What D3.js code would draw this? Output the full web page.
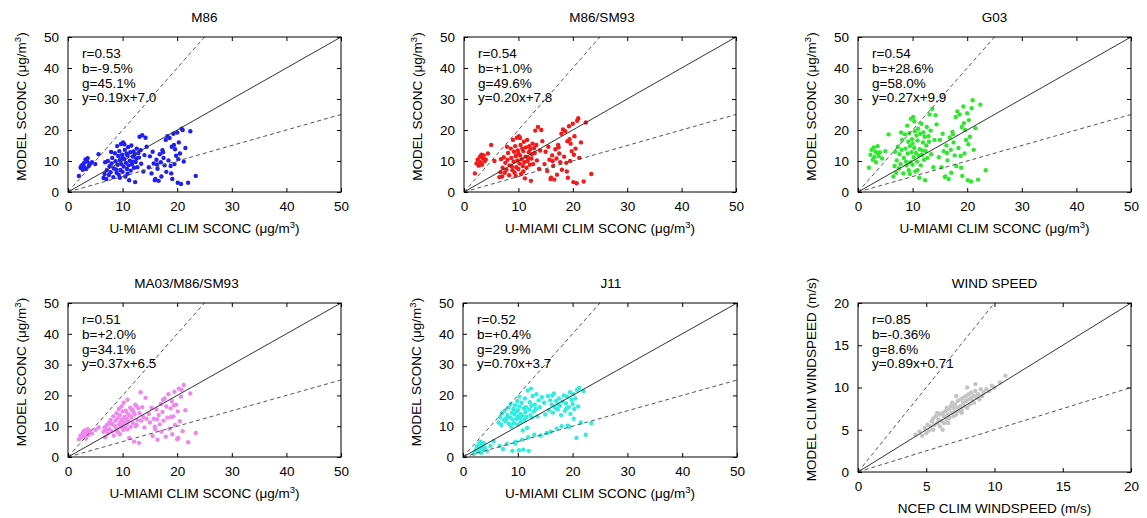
<!DOCTYPE html>
<html lang="en">
<head>
  <meta charset="UTF-8">
  <title>Model vs climatology scatter</title>
  <script src="https://d3js.org/d3.v7.min.js"></script>
  <style>
    body { margin: 0; background: #fff; }
    svg { display: block; font-family: "Liberation Sans", Arial, Helvetica, sans-serif; }
  </style>
</head>
<body>
<script>
  // observed U-MIAMI climatological sea-salt conc. (same stations for the 5 SCONC panels)
  const obsSconc = [
    2.0, 2.3, 2.5, 2.7, 2.9, 3.0, 3.2, 3.3, 3.5, 3.6,
    3.8, 4.0, 4.4, 5.0, 5.6,
    6.5, 6.7, 6.8, 7.0, 7.1, 7.3, 7.5, 7.6, 7.8, 8.0,
    8.1, 8.3, 8.4, 8.6, 8.7, 8.9, 9.0, 9.1, 9.2, 9.3,
    9.4, 9.5, 9.6, 9.7, 9.8, 9.9, 10.0, 10.0, 10.1, 10.2,
    10.3, 10.4, 10.5, 10.6, 10.7, 10.8, 10.9, 11.0, 11.1, 11.2,
    11.3, 11.4, 11.5, 11.6, 11.8, 11.9, 12.0, 12.1, 12.2, 12.3,
    12.5, 12.6, 12.7, 12.9, 13.0, 13.1, 13.3, 13.4, 13.6, 13.8,
    14.0, 14.2, 14.4, 8.8, 9.5, 10.3, 11.7, 12.4, 7.9, 10.9,
    14.8, 15.0, 15.3, 15.5, 15.7, 16.0, 16.2, 16.4, 16.6, 16.8,
    17.0, 17.1, 17.3, 17.5, 17.7, 17.9, 18.0, 18.2, 18.4, 18.6,
    18.8, 19.0, 19.1, 19.3, 19.5, 19.6, 19.8, 20.0, 20.1, 20.3,
    20.5, 20.7, 21.0, 21.2, 21.5, 22.0, 22.4, 23.4, 15.9, 17.4,
    18.9, 19.4, 20.2, 16.3, 20.8
  ];

  // model SCONC for each sea-salt source function
  const m86 = [
    5.2, 7.8, 8.6, 7.2, 9.3, 8.0, 10.5, 7.4, 9.8, 10.9,
    8.4, 9.1, 9.6, 9.0, 12.2,
    4.5, 5.8, 9.6, 4.2, 7.0, 10.0, 5.5, 8.3, 6.4, 9.2,
    11.0, 4.8, 7.6, 12.5, 9.9, 6.2, 14.8, 8.8, 11.6, 5.6,
    13.2, 10.3, 7.1, 15.5, 9.0, 12.0, 11.2, 6.5, 16.0, 8.2,
    10.6, 13.6, 5.0, 9.4, 12.4, 7.4, 11.8, 14.5, 8.6, 3.8,
    10.1, 12.8, 6.9, 15.0, 9.8, 11.4, 13.1, 7.8, 12.2, 3.2,
    10.8, 14.0, 8.0, 12.6, 11.1, 17.8, 13.5, 9.1, 18.3, 6.6,
    11.9, 17.5, 14.6, 7.3, 4.6, 15.4, 8.9, 9.7, 12.9, 5.9,
    8.0, 11.5, 6.0, 13.0, 9.2, 4.2, 10.4, 7.5, 3.6, 12.2,
    9.6, 5.0, 13.5, 11.0, 8.6, 16.8, 6.5, 18.0, 10.2, 17.4,
    8.4, 14.6, 4.2, 18.8, 9.0, 13.8, 11.7, 19.2, 3.0, 16.0,
    12.4, 2.6, 20.0, 9.8, 14.2, 3.0, 19.6, 5.2, 3.8, 12.8,
    6.0, 15.2, 10.6, 8.9, 20.4
  ];
  const m86sm93 = [
    6.0, 9.2, 10.4, 8.5, 11.3, 9.6, 12.0, 8.8, 10.8, 11.8,
    9.9, 10.5, 12.4, 15.2, 10.0,
    4.8, 6.4, 10.6, 5.0, 7.8, 11.2, 6.2, 9.4, 7.2, 10.4,
    12.6, 5.4, 8.6, 14.0, 11.0, 7.0, 16.8, 9.8, 13.0, 6.2,
    14.8, 11.6, 8.0, 17.5, 10.2, 13.4, 12.4, 7.4, 18.0, 9.2,
    11.8, 15.2, 5.8, 10.6, 14.0, 8.4, 13.2, 16.2, 9.6, 4.4,
    11.4, 14.4, 7.8, 16.8, 11.0, 12.8, 14.8, 8.8, 13.8, 3.6,
    12.2, 15.6, 9.0, 14.2, 12.6, 19.8, 15.2, 10.2, 21.0, 7.4,
    13.4, 20.0, 16.4, 8.2, 5.2, 17.4, 10.0, 10.8, 14.6, 6.6,
    9.0, 13.0, 6.8, 14.6, 10.4, 4.6, 11.8, 8.4, 4.0, 13.8,
    10.8, 5.6, 15.2, 12.4, 9.6, 18.8, 7.2, 20.2, 11.4, 19.6,
    9.4, 16.4, 4.6, 21.2, 10.0, 15.6, 13.2, 22.0, 3.2, 18.0,
    14.0, 2.8, 23.8, 11.0, 16.0, 3.4, 22.4, 5.8, 4.2, 14.4,
    6.6, 17.0, 12.0, 10.0, 23.0
  ];
  const g03 = [
    7.8, 12.0, 13.6, 10.4, 14.4, 11.2, 13.0, 9.6, 12.6, 14.8,
    11.6, 12.8, 10.8, 13.2, 18.6,
    5.0, 8.4, 13.0, 6.2, 10.2, 14.6, 7.6, 12.2, 9.0, 13.6,
    16.8, 6.0, 11.0, 18.6, 14.0, 8.6, 21.4, 12.4, 16.2, 7.0,
    19.0, 14.8, 9.6, 23.6, 12.8, 17.0, 15.6, 8.8, 24.2, 11.2,
    14.2, 19.6, 6.6, 12.6, 18.2, 9.8, 16.6, 20.4, 11.8, 4.6,
    13.8, 18.8, 8.6, 22.0, 13.4, 16.0, 19.2, 10.4, 17.8, 3.8,
    15.0, 21.0, 11.0, 18.0, 16.2, 25.0, 19.8, 12.2, 26.8, 8.0,
    16.8, 24.8, 21.8, 9.8, 5.8, 22.8, 12.0, 13.2, 19.2, 7.0,
    11.2, 16.8, 8.0, 18.8, 13.2, 5.0, 15.0, 10.2, 4.2, 17.6,
    13.6, 6.2, 19.4, 16.0, 11.8, 24.2, 8.4, 26.0, 14.2, 25.0,
    11.6, 21.0, 5.2, 27.6, 12.4, 20.0, 16.8, 25.4, 3.8, 23.2,
    17.8, 3.4, 29.6, 13.6, 20.6, 4.0, 28.2, 7.0, 4.8, 18.6,
    7.8, 22.2, 15.4, 12.6, 27.0
  ];
  const ma03 = [
    5.8, 7.0, 6.4, 7.8, 6.8, 8.6, 7.4, 6.0, 8.0, 9.0,
    7.2, 8.4, 7.6, 8.8, 9.6,
    8.2, 9.6, 6.4, 8.8, 10.4, 7.6, 11.0, 9.0, 12.0, 8.4,
    10.8, 13.2, 7.0, 10.0, 11.8, 14.2, 9.2, 12.6, 8.0, 15.6,
    10.6, 13.6, 11.4, 9.8, 16.4, 12.2, 10.2, 14.8, 8.8, 17.6,
    11.2, 13.0, 9.4, 15.0, 12.4, 10.8, 18.6, 14.0, 11.6, 6.2,
    13.4, 16.0, 9.8, 12.8, 15.4, 11.0, 14.6, 5.0, 13.8, 17.0,
    16.6, 10.4, 12.0, 15.8, 4.6, 14.2, 21.0, 11.8, 16.2, 13.0,
    9.6, 19.2, 12.4, 8.6, 7.4, 12.8, 15.2, 10.0, 10.6, 9.0,
    14.0, 11.2, 16.0, 6.8, 12.4, 9.0, 15.4, 5.6, 13.6, 10.6,
    17.2, 8.2, 14.6, 11.8, 19.0, 6.6, 16.4, 12.8, 20.4, 9.2,
    15.8, 18.2, 7.4, 13.2, 21.2, 10.4, 17.0, 5.8, 14.8, 22.2,
    11.6, 19.6, 8.4, 23.4, 15.2, 4.8, 20.6, 7.8, 9.8, 18.6,
    13.0, 16.8, 6.2, 12.2, 21.8
  ];
  const j11 = [
    1.0, 2.2, 3.4, 1.8, 4.2, 2.8, 5.0, 1.4, 3.8, 2.6,
    4.6, 3.0, 2.0, 3.6, 5.2,
    11.2, 3.6, 13.0, 10.4, 14.2, 2.6, 12.0, 15.0, 11.6, 4.2,
    13.6, 16.0, 10.8, 12.8, 17.2, 14.4, 2.0, 12.2, 15.6, 11.0,
    13.8, 16.8, 5.0, 14.8, 12.4, 18.2, 10.6, 15.2, 13.2, 2.2,
    16.4, 12.6, 14.0, 11.4, 17.6, 5.6, 13.4, 2.4, 15.8, 12.0,
    19.0, 14.6, 16.2, 13.0, 21.6, 6.4, 2.0, 15.4, 17.8, 13.6,
    16.6, 12.8, 19.8, 14.8, 7.2, 17.0, 15.6, 20.4, 13.2, 18.4,
    16.2, 7.0, 19.4, 9.8, 4.4, 19.6, 9.4, 22.2, 12.6, 8.6,
    17.6, 13.8, 7.8, 19.8, 15.2, 8.2, 17.0, 14.4, 20.6, 16.0,
    18.2, 9.2, 15.4, 19.0, 16.6, 13.6, 10.0, 18.0, 20.0, 15.0,
    17.4, 19.6, 10.2, 16.2, 21.0, 14.0, 18.6, 17.2, 20.4, 15.6,
    19.0, 6.2, 16.4, 22.4, 11.2, 21.4, 7.2, 11.0, 18.4, 17.0,
    15.8, 9.8, 12.4, 20.0, 21.8
  ];

  // wind speed: NCEP climatology vs model
  const ncepWind = [
    4.2, 4.5, 4.7, 4.9, 5.0, 5.1, 5.2, 5.3, 5.4, 5.5,
    5.5, 5.6, 5.7, 5.8, 5.9, 6.0, 6.0, 6.1, 6.2, 6.3,
    6.3, 6.4, 6.5, 6.5, 6.6, 6.7, 6.7, 6.8, 6.9, 7.0,
    7.0, 7.1, 7.1, 7.2, 7.3, 7.3, 7.4, 7.5, 7.5, 7.6,
    7.7, 7.7, 7.8, 7.9, 7.9, 8.0, 8.1, 8.1, 8.2, 8.3,
    8.3, 8.4, 8.5, 8.5, 8.6, 8.7, 8.8, 8.9, 9.0, 9.1,
    9.2, 9.4, 9.6, 9.8, 10.0, 10.4, 10.8, 6.2, 6.9, 7.6,
    8.0, 5.8, 7.2, 8.6, 6.6
  ];
  const modelWind = [
    4.4, 4.8, 4.3, 5.2, 4.6, 5.6, 4.9, 5.4, 6.0, 5.0,
    6.3, 5.6, 6.6, 5.8, 6.2, 5.4, 6.8, 6.0, 7.0, 5.8,
    6.6, 7.2, 6.2, 7.6, 6.8, 7.4, 6.4, 7.8, 7.0, 6.6,
    7.6, 7.2, 8.0, 6.8, 7.6, 8.4, 7.2, 7.8, 8.6, 7.4,
    8.2, 8.8, 7.8, 8.4, 9.0, 7.6, 8.6, 9.2, 8.0, 8.8,
    9.4, 8.4, 9.0, 8.2, 9.6, 8.8, 9.2, 8.6, 9.8, 9.0,
    9.4, 9.8, 9.6, 10.2, 10.0, 10.6, 11.4, 5.0, 8.2, 7.0,
    10.0, 7.0, 9.0, 10.4, 5.8
  ];

  const titles = ["M86", "M86/SM93", "G03", "MA03/M86/SM93", "J11", "WIND SPEED"];
  const stats = [
    ["r=0.53", "b=-9.5%", "g=45.1%", "y=0.19x+7.0"],
    ["r=0.54", "b=+1.0%", "g=49.6%", "y=0.20x+7.8"],
    ["r=0.54", "b=+28.6%", "g=58.0%", "y=0.27x+9.9"],
    ["r=0.51", "b=+2.0%", "g=34.1%", "y=0.37x+6.5"],
    ["r=0.52", "b=+0.4%", "g=29.9%", "y=0.70x+3.7"],
    ["r=0.85", "b=-0.36%", "g=8.6%", "y=0.89x+0.71"]
  ];
  const sconcTicks = [0, 10, 20, 30, 40, 50];
  const windTicks = [0, 5, 10, 15, 20];
  const colors = ["#1f1ff2", "#f21a1a", "#2ee82e", "#ee88ee", "#2eeee0", "#c4c4c4"];

  let width = 1147;
  let height = 518;
  let fs = 13.5;

  let svg = d3.select("body").append("svg").attr("width", width).attr("height", height);

  // frame boxes for each panel
  let boxes = [
    {l: 68,  t: 37,  w: 273, h: 155, tdx: 0},
    {l: 464, t: 37,  w: 272, h: 155, tdx: 2},
    {l: 858, t: 37,  w: 273, h: 155, tdx: 0},
    {l: 68,  t: 303, w: 273, h: 154, tdx: -18},
    {l: 463, t: 303, w: 274, h: 154, tdx: 11},
    {l: 858, t: 303, w: 273, h: 169, tdx: 0}
  ];

  let sconcModels = [m86, m86sm93, g03, ma03, j11];
  let panels = [];
  for (let i = 0; i < 5; i++) {
    panels.push({xs: obsSconc, ys: sconcModels[i], max: 50, ticks: sconcTicks,
      xlab: "U-MIAMI CLIM SCONC", ylab: "MODEL SCONC", unit: true});
  }
  panels.push({xs: ncepWind, ys: modelWind, max: 20, ticks: windTicks,
    xlab: "NCEP CLIM WINDSPEED (m/s)", ylab: "MODEL CLIM WINDSPEED (m/s)", unit: false});

  function addLabel(sel, base, unit) {
    if (!unit) { sel.text(base); return; }
    sel.append("tspan").text(base + " (\u03bcg/m");
    sel.append("tspan").attr("dy", -5).style("font-size", "9.5px").text("3");
    sel.append("tspan").attr("dy", 5).text(")");
  }

  panels.forEach(function(p, i) {
    let b = boxes[i];
    let x = d3.scaleLinear().domain([0, p.max]).range([b.l, b.l + b.w]);
    let y = d3.scaleLinear().domain([0, p.max]).range([b.t + b.h, b.t]);
    let g = svg.append("g");

    // scatter
    g.append("g").selectAll("circle").data(d3.zip(p.xs, p.ys)).join("circle")
      .attr("cx", d => x(d[0])).attr("cy", d => y(d[1])).attr("r", 2.2)
      .attr("fill", colors[i]);

    // 1:1 and 2:1 / 1:2 lines
    let refLines = [[p.max, p.max, null], [p.max / 2, p.max, "4,3"], [p.max, p.max / 2, "4,3"]];
    refLines.forEach(function(r) {
      g.append("line").attr("x1", x(0)).attr("y1", y(0)).attr("x2", x(r[0])).attr("y2", y(r[1]))
        .attr("stroke", r[2] ? "#555" : "#333").attr("stroke-width", 1)
        .attr("stroke-dasharray", r[2]);
    });

    // axes with inward ticks, mirrored on top/right
    let ax = g.append("g").attr("transform", "translate(0," + (b.t + b.h) + ")")
      .call(d3.axisBottom(x).tickValues(p.ticks).tickSizeInner(-4).tickSizeOuter(0).tickPadding(9));
    let ay = g.append("g").attr("transform", "translate(" + b.l + ",0)")
      .call(d3.axisLeft(y).tickValues(p.ticks).tickSizeInner(-4).tickSizeOuter(0).tickPadding(9));
    g.append("g").attr("transform", "translate(0," + b.t + ")")
      .call(d3.axisTop(x).tickValues(p.ticks).tickSizeInner(-4).tickSizeOuter(0).tickFormat(""));
    g.append("g").attr("transform", "translate(" + (b.l + b.w) + ",0)")
      .call(d3.axisRight(y).tickValues(p.ticks).tickSizeInner(-4).tickSizeOuter(0).tickFormat(""));
    g.selectAll(".domain").remove();
    g.selectAll(".tick line").attr("stroke", "#000");
    g.selectAll(".tick text").style("font-size", fs + "px").attr("fill", "#000")
      .style("font-family", "'Liberation Sans', Arial, sans-serif");

    g.append("rect").attr("x", b.l).attr("y", b.t).attr("width", b.w).attr("height", b.h)
      .attr("fill", "none").attr("stroke", "#000").attr("stroke-width", 1);

    // title
    g.append("text").attr("x", b.l + b.w / 2 + b.tdx).attr("y", b.t - 15)
      .attr("text-anchor", "middle").style("font-size", fs + "px").text(titles[i]);

    // stats block
    stats[i].forEach(function(s, k) {
      g.append("text").attr("x", b.l + 14).attr("y", b.t + 21 + k * 14.8)
        .style("font-size", fs + "px").text(s);
    });

    // axis titles
    let xt = g.append("text").attr("x", b.l + b.w / 2).attr("y", b.t + b.h + 41)
      .attr("text-anchor", "middle").style("font-size", fs + "px");
    addLabel(xt, p.xlab, p.unit);
    let cy = b.t + b.h / 2 - 8;
    let yt = g.append("text").attr("transform", "translate(" + (b.l - 42) + "," + cy + ") rotate(-90)")
      .attr("text-anchor", "middle").style("font-size", fs + "px");
    addLabel(yt, p.ylab, p.unit);
  });
</script>
</body>
</html>
